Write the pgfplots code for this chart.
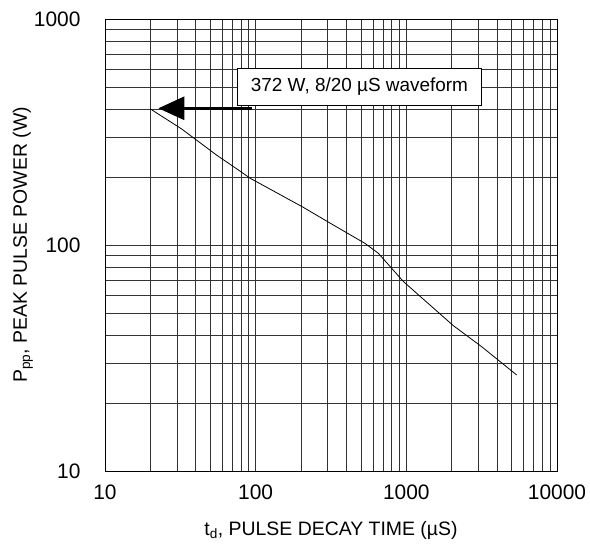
\documentclass[border=0pt]{standalone}
\usepackage{fontspec}
\setmainfont{Liberation Sans}
\usepackage{pgfplots}
\pgfplotsset{compat=1.18}
\usetikzlibrary{arrows.meta}
\begin{document}
\begin{tikzpicture}
\begin{axis}[
 name=ax,
 scale only axis, width=452bp, height=452bp,
 xmode=log, ymode=log,
 xmin=10, xmax=10000, ymin=10, ymax=1000,
 xtick={10,100,1000,10000}, xticklabels={10,100,1000,10000},
 ytick={10,100,1000}, yticklabels={10,100,1000},
 grid=both,
 major grid style={black!80, line width=0.7bp},
 minor grid style={black!80, line width=0.7bp},
 major tick length=0pt, minor tick length=0pt,
 axis line style={black, line width=0.8bp},
 ticklabel style={font=\fontsize{21}{24}\selectfont},
 xticklabel style={yshift=-10bp},
 yticklabel style={xshift=-21bp},
 xlabel={t\textsubscript{d}, PULSE DECAY TIME (µS)},
 ylabel={P\textsubscript{pp}, PEAK PULSE POWER (W)},
 label style={font=\fontsize{19.5}{22}\selectfont},
 xlabel style={at={(axis description cs:0.5,-0.1416)}, anchor=base},
 ylabel style={at={(axis description cs:-0.1726,0.5)}, anchor=base},
]
\addplot[black, line width=0.8bp, mark=none] coordinates {
(20,400) (32.3,326) (55,250) (79,212) (92,197.4) (207,146.8)
(319,123.9) (531,101.7) (651,92) (759,82) (954,69)
(2048,44) (3160,35.5) (5400,26.6)
};
\draw[line width=3bp, -{Triangle[length=26bp,width=23bp]}] (axis cs:94,402.6) -- (axis cs:22.6,402.6);
\node[draw, fill=white, line width=1.3bp, minimum width=244bp, minimum height=37bp, inner sep=0pt, font=\fontsize{19}{22}\selectfont] at (axis cs:488.6,501) {372 W, 8/20 µS waveform};
\end{axis}
\pgfresetboundingbox
\path ([shift={(-105bp,19bp)}]ax.north west) rectangle ([shift={(33bp,-73bp)}]ax.south east);
\end{tikzpicture}
\end{document}
